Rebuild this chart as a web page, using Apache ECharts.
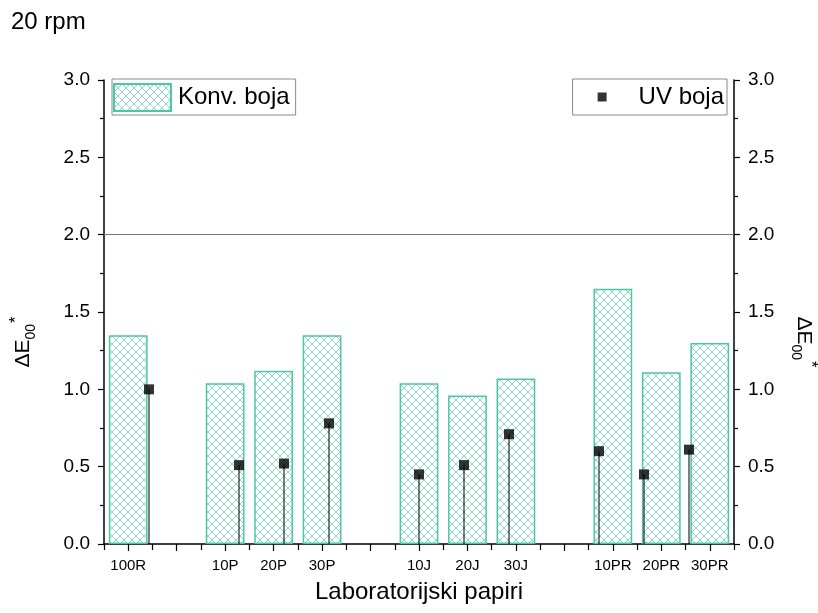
<!DOCTYPE html>
<html><head><meta charset="utf-8">
<script src="https://cdn.jsdelivr.net/npm/echarts@6/dist/echarts.min.js"></script>
<style>html,body{margin:0;padding:0;background:#fff}#c{width:818px;height:613px}</style>
</head><body><div id="c"></div>
<script>
const categories = ['100R','','10P','20P','30P','','10J','20J','30J','','10PR','20PR','30PR'];
const konvBoja = [1.35,'-',1.04,1.12,1.35,'-',1.04,0.96,1.07,'-',1.65,1.11,1.30];
const uvBoja = [1.00,'-',0.51,0.52,0.78,'-',0.45,0.51,0.71,'-',0.60,0.45,0.61];
const yTicks = ['0.0','0.5','1.0','1.5','2.0','2.5','3.0'];

// hatched pattern fill for the bars
const pc = document.createElement('canvas');
pc.width = 8; pc.height = 8;
const g = pc.getContext('2d');
g.fillStyle = '#ffffff'; g.fillRect(0,0,8,8);
g.strokeStyle = 'rgba(80,195,160,0.7)'; g.lineWidth = 0.9;
g.beginPath();
g.moveTo(-1,-1); g.lineTo(9,9);
g.moveTo(-1,9); g.lineTo(9,-1);
g.stroke();
const pattern = {image: pc, repeat: 'repeat'};

const FONT = 'Liberation Sans, Arial, sans-serif';
const scatterCats = [''].concat(categories, ['']);
const scatterData = ['-'].concat(uvBoja, ['-']);

const yName = '{a|ΔE}{s|00}{p|*}';
const yRich = {
  a: {fontSize: 21, fontFamily: FONT, color: '#000', lineHeight: 30, verticalAlign: 'middle'},
  s: {fontSize: 14, fontFamily: FONT, color: '#000', verticalAlign: 'bottom', lineHeight: 16},
  p: {fontSize: 17, fontFamily: FONT, color: '#000', verticalAlign: 'top', lineHeight: 22, padding: [0,0,0,1]}
};
const yCommon = {
  type: 'value', min: 0, max: 3, interval: 0.5,
  axisLine: {show: true, lineStyle: {color: '#000', width: 1.5}},
  axisTick: {show: true, length: 6, inside: false, lineStyle: {color: '#000', width: 1.2}},
  minorTick: {show: true, splitNumber: 2, length: 4, lineStyle: {color: '#000', width: 1.2}},
  splitLine: {show: false},
  axisLabel: {fontSize: 19, fontFamily: FONT, color: '#000', margin: 14,
    formatter: v => yTicks[Math.round(v * 2)]},
  nameLocation: 'middle'
};

const chart = echarts.init(document.getElementById('c'));
chart.setOption({
  animation: false,
  backgroundColor: '#fff',
  title: {text: '20 rpm', left: 11, top: 10, padding: 0,
    textStyle: {fontSize: 24, fontWeight: 'normal', fontFamily: FONT, color: '#000'}},
  grid: {left: 104, right: 84, top: 80, bottom: 69, outerBoundsMode: 'none', containLabel: false},
  legend: [
    {data: ['Konv. boja'], left: 112, top: 79, orient: 'horizontal', icon: 'rect',
     itemWidth: 57, itemHeight: 27, itemGap: 6,
     padding: [4, 6, 3, 1], borderColor: '#8a8a8a', borderWidth: 1, backgroundColor: '#fff',
     textStyle: {fontSize: 24, fontFamily: FONT, color: '#000', padding: [0,0,0,2]}},
    {data: ['UV boja'], right: 91, top: 79, orient: 'horizontal', icon: 'rect',
     itemWidth: 9, itemHeight: 9, itemGap: 6,
     padding: [6, 3, 6, 25], borderColor: '#8a8a8a', borderWidth: 1, backgroundColor: '#fff',
     textStyle: {fontSize: 24, fontFamily: FONT, color: '#000', padding: [0,0,0,27]}}
  ],
  xAxis: [
    {type: 'category', data: categories, boundaryGap: true, position: 'bottom',
     axisLine: {show: true, lineStyle: {color: '#000', width: 1.5}},
     axisTick: {show: true, interval: 0, alignWithLabel: true, length: 7, lineStyle: {color: '#000', width: 1.2}},
     axisLabel: {interval: 0, fontSize: 15, fontFamily: FONT, color: '#000', margin: 14},
     name: 'Laboratorijski papiri', nameLocation: 'middle', nameGap: 36,
     nameTextStyle: {fontSize: 24, fontFamily: FONT, color: '#000'}},
    {type: 'category', data: scatterCats, boundaryGap: false, show: false},
    {type: 'category', data: categories, boundaryGap: true, position: 'bottom',
     axisLine: {show: false}, axisLabel: {show: false},
     axisTick: {show: true, interval: 0, alignWithLabel: false, length: 6, lineStyle: {color: '#000', width: 1.2}}}
  ],
  yAxis: [
    Object.assign({}, yCommon, {position: 'left', name: yName, nameGap: 66, nameRotate: 90,
      nameTextStyle: {rich: yRich, padding: [0, 60, 0, 0]}}),
    Object.assign({}, yCommon, {position: 'right', name: yName, nameGap: 55, nameRotate: -90,
      nameTextStyle: {rich: yRich, padding: [0, 0, 0, 60]}})
  ],
  series: [
    {name: 'Konv. boja', type: 'bar', xAxisIndex: 0, yAxisIndex: 0, data: konvBoja, barWidth: '80%',
     itemStyle: {color: pattern, borderColor: '#4cc7a6', borderWidth: 1.5},
     markLine: {silent: true, symbol: 'none', label: {show: false},
       lineStyle: {color: '#777', width: 1, type: 'solid'}, data: [{yAxis: 2}]},
     z: 2},
    {name: 'drop', type: 'bar', xAxisIndex: 1, yAxisIndex: 0, data: scatterData, barWidth: 1,
     itemStyle: {color: '#000'}, z: 3},
    {name: 'UV boja', type: 'scatter', xAxisIndex: 1, yAxisIndex: 0, data: scatterData,
     symbol: 'rect', symbolSize: 10, itemStyle: {color: '#000'}, z: 4}
  ]
});
</script></body></html>
